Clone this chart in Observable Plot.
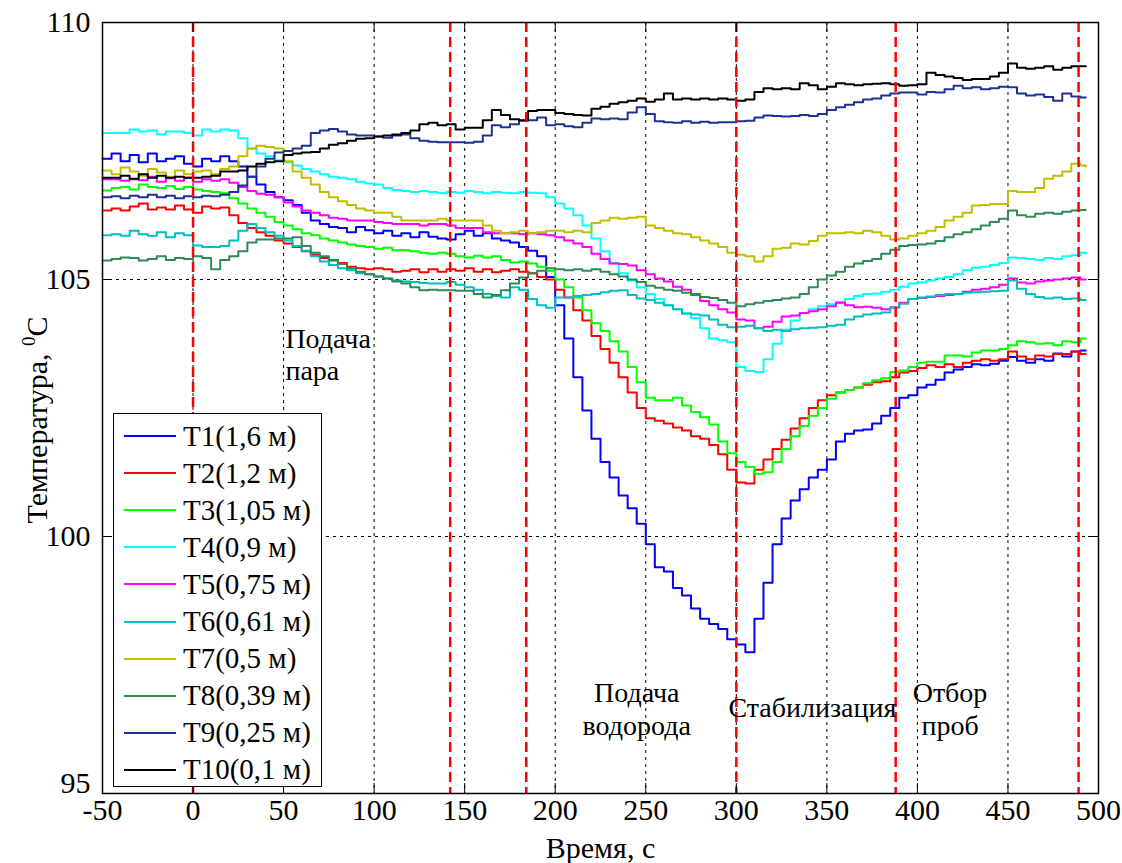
<!DOCTYPE html>
<html>
<head>
<meta charset="utf-8">
<script src="https://cdn.jsdelivr.net/npm/d3@7"></script>
<script src="https://cdn.jsdelivr.net/npm/@observablehq/plot@0.6"></script>
<style>
  html, body { margin: 0; padding: 0; background: #fff; }
  #wrap { position: relative; width: 1122px; height: 863px; font-family: "Liberation Serif", "Times New Roman", Tinos, "DejaVu Serif", serif; }
  #legend { position: absolute; left: 113px; top: 413px; width: 207px; height: 372px; border: 1px solid #000; background: #fff; }
  .item { position: absolute; left: 10px; height: 37px; display: flex; align-items: center; font-size: 29px; color: #000; white-space: nowrap; }
  .sw { width: 52px; height: 0; border-top: 2.5px solid; margin-right: 7px; }
</style>
</head>
<body>
<div id="wrap"></div>
<script>
// ---------------- data ----------------
const names = ["T1(1,6 м)", "T2(1,2 м)", "T3(1,05 м)", "T4(0,9 м)", "T5(0,75 м)",
               "T6(0,61 м)", "T7(0,5 м)", "T8(0,39 м)", "T9(0,25 м)", "T10(0,1 м)"];
const colors = ["#0000ff", "#ff0000", "#00ff00", "#00ffff", "#ff00ff",
                "#00bfbf", "#bfbf00", "#2e8b57", "#1e3296", "#000000"];

const times = [
  -50, -45, -40, -35, -30, -25, -20, -15, -10, -5,
  0, 5, 10, 15, 20, 25, 30, 35, 40, 45,
  50, 55, 60, 65, 70, 75, 80, 85, 90, 95,
  100, 105, 110, 115, 120, 125, 130, 135, 140, 145,
  150, 155, 160, 165, 170, 175, 180, 185, 190, 195,
  200, 205, 210, 215, 220, 225, 230, 235, 240, 245,
  250, 255, 260, 265, 270, 275, 280, 285, 290, 295,
  300, 305, 310, 315, 320, 325, 330, 335, 340, 345,
  350, 355, 360, 365, 370, 375, 380, 385, 390, 395,
  400, 405, 410, 415, 420, 425, 430, 435, 440, 445,
  450, 455, 460, 465, 470, 475, 480, 485, 490, 493
];

const T1 = [
  107.35, 107.45, 107.3, 107.42, 107.28, 107.45, 107.3, 107.35, 107.4, 107.25,
  107.2, 107.35, 107.3, 107.4, 107.3, 107.2, 107.0, 106.85, 106.7, 106.6,
  106.54, 106.45, 106.3, 106.15, 106.08, 106.02, 106.0, 105.92, 106.02, 105.96,
  105.9, 105.95, 105.85, 105.9, 105.82, 105.92, 105.83, 105.8, 105.78, 105.88,
  105.95, 105.85, 105.9, 105.8, 105.76, 105.72, 105.63, 105.56, 105.45, 105.05,
  104.5, 103.85, 103.1, 102.45, 101.9, 101.45, 101.15, 100.8, 100.55, 100.25,
  99.85, 99.4, 99.32, 99.0, 98.85, 98.6, 98.4, 98.3, 98.2, 98.0,
  97.9, 97.75, 98.4, 99.1, 99.85, 100.35, 100.7, 100.92, 101.15, 101.3,
  101.5, 101.85, 102.0, 102.06, 102.08, 102.2, 102.35, 102.5, 102.7, 102.75,
  102.9, 102.95, 103.05, 103.19, 103.25, 103.3, 103.35, 103.33, 103.36, 103.42,
  103.49, 103.42, 103.38, 103.45, 103.42, 103.56, 103.5, 103.6, 103.62, 103.62
];
const T2 = [
  106.34, 106.38, 106.34, 106.42, 106.48, 106.36, 106.4, 106.36, 106.44, 106.36,
  106.3, 106.42, 106.38, 106.4, 106.25, 106.1, 106.0, 105.92, 105.85, 105.76,
  105.7, 105.63, 105.55, 105.48, 105.42, 105.37, 105.32, 105.25, 105.22, 105.2,
  105.22, 105.2, 105.15, 105.17, 105.2, 105.14, 105.2, 105.15, 105.2, 105.17,
  105.22, 105.15, 105.2, 105.14, 105.17, 105.2, 105.15, 105.12, 105.05, 105.0,
  104.8, 104.65, 104.4, 104.2, 103.9, 103.65, 103.38, 103.1, 102.8, 102.5,
  102.3, 102.25, 102.2, 102.12, 102.06, 101.95, 101.9, 101.78, 101.6, 101.3,
  101.05, 101.03, 101.3, 101.5, 101.7, 101.88, 102.1, 102.3, 102.5, 102.65,
  102.75, 102.8, 102.85, 102.9, 102.95, 103.0, 103.02, 103.1, 103.19, 103.22,
  103.28, 103.33, 103.3, 103.35, 103.3, 103.38, 103.42, 103.45, 103.42, 103.45,
  103.6, 103.5, 103.45, 103.52, 103.5, 103.55, 103.55, 103.6, 103.55, 103.55
];
const T3 = [
  106.73, 106.78, 106.8, 106.75, 106.85, 106.8, 106.78, 106.82, 106.76, 106.8,
  106.75, 106.72, 106.7, 106.68, 106.58, 106.48, 106.38, 106.3, 106.22, 106.12,
  106.05, 105.98, 105.9, 105.86, 105.8, 105.76, 105.72, 105.68, 105.65, 105.63,
  105.6, 105.62, 105.57, 105.57, 105.55, 105.52, 105.5, 105.52, 105.5, 105.45,
  105.43, 105.46, 105.43, 105.45, 105.38, 105.33, 105.35, 105.31, 105.25, 105.17,
  105.0, 104.85, 104.65, 104.4, 104.15, 104.0, 103.8, 103.6, 103.3, 103.0,
  102.7, 102.65, 102.65, 102.7, 102.55, 102.42, 102.32, 102.18, 101.85, 101.62,
  101.45, 101.35, 101.22, 101.25, 101.45, 101.7, 101.95, 102.15, 102.35, 102.5,
  102.68, 102.8, 102.85, 102.9, 102.98, 103.04, 103.08, 103.2, 103.23, 103.3,
  103.38, 103.4, 103.4, 103.52, 103.52, 103.5, 103.58, 103.62, 103.62, 103.65,
  103.72, 103.8, 103.78, 103.75, 103.76, 103.72, 103.8, 103.78, 103.85, 103.85
];
const T4 = [
  107.85, 107.85, 107.85, 107.92, 107.88, 107.9, 107.82, 107.88, 107.88, 107.85,
  107.8, 107.92, 107.88, 107.92, 107.9, 107.75, 107.55, 107.45, 107.4, 107.32,
  107.28, 107.22, 107.15, 107.1, 107.05, 107.0, 106.98, 106.95, 106.9, 106.87,
  106.85, 106.78, 106.74, 106.72, 106.7, 106.72, 106.7, 106.68, 106.7, 106.69,
  106.72, 106.7, 106.68, 106.7, 106.69, 106.68, 106.7, 106.69, 106.68, 106.6,
  106.48, 106.38, 106.25, 106.05, 105.8, 105.55, 105.32, 105.12, 104.98, 104.85,
  104.72, 104.62, 104.5, 104.42, 104.34, 104.25, 104.05, 103.85, 103.82, 103.78,
  103.3, 103.22, 103.2, 103.45, 103.75, 104.02, 104.2, 104.35, 104.42, 104.48,
  104.52, 104.56, 104.62, 104.68, 104.72, 104.73, 104.76, 104.8, 104.86, 104.92,
  104.94, 104.98, 105.02, 105.05, 105.1, 105.18, 105.23, 105.25, 105.28, 105.32,
  105.43, 105.42, 105.4, 105.38, 105.42, 105.4, 105.45, 105.47, 105.52, 105.5
];
const T5 = [
  106.95, 106.95, 106.92, 106.95, 106.93, 107.0, 106.9, 106.97, 106.92, 106.98,
  106.9, 106.95, 106.92, 106.95, 106.88, 106.8, 106.72, 106.67, 106.65, 106.6,
  106.5, 106.42, 106.34, 106.3, 106.25, 106.2, 106.18, 106.15, 106.15, 106.15,
  106.12, 106.1, 106.08, 106.08, 106.08, 106.05, 106.08, 106.08, 106.05, 106.0,
  106.0, 106.0, 105.92, 105.9, 105.9, 105.9, 105.88, 105.9, 105.88, 105.86,
  105.82, 105.76, 105.7, 105.63, 105.5, 105.4, 105.31, 105.3, 105.27, 105.18,
  105.1, 105.02, 104.96, 104.86, 104.8, 104.72, 104.58, 104.5, 104.42, 104.36,
  104.22, 104.2, 104.05, 104.08, 104.18, 104.28, 104.3, 104.35, 104.38, 104.42,
  104.48, 104.55, 104.5, 104.46, 104.47, 104.45, 104.42, 104.46, 104.55, 104.62,
  104.64, 104.66, 104.68, 104.7, 104.72, 104.76, 104.8, 104.82, 104.85, 104.9,
  105.02, 104.94, 104.92, 104.96, 104.98, 105.0, 105.02, 105.04, 105.0, 105.0
];
const T6 = [
  105.86, 105.88, 105.85, 105.95, 105.88, 105.85, 105.92, 105.82, 105.9, 105.86,
  105.66, 105.63, 105.63, 105.65, 105.76, 105.95, 106.08, 106.0, 105.92, 105.85,
  105.76, 105.65, 105.56, 105.45, 105.35, 105.28, 105.22, 105.18, 105.12, 105.1,
  105.06, 105.02, 104.98, 104.96, 104.95, 104.93, 104.92, 104.92, 104.95, 104.9,
  104.85, 104.8, 104.72, 104.68, 104.65, 104.85, 104.8, 104.62, 104.5, 104.45,
  104.65, 104.65, 104.68, 104.7, 104.72, 104.75, 104.78, 104.79, 104.7, 104.63,
  104.6, 104.55, 104.5, 104.42, 104.34, 104.32, 104.3, 104.22, 104.12, 104.07,
  104.08, 104.1, 104.05, 104.0, 104.02, 104.0, 104.03, 104.05, 104.06, 104.07,
  104.1, 104.12, 104.22, 104.28, 104.32, 104.34, 104.36, 104.45, 104.53, 104.62,
  104.65, 104.67, 104.7, 104.72, 104.72, 104.74, 104.75, 104.76, 104.77, 104.78,
  104.98, 104.82, 104.72, 104.66, 104.63, 104.65, 104.62, 104.63, 104.6, 104.6
];
const T7 = [
  107.12, 107.05, 107.18, 107.1, 107.02, 107.15, 107.08, 107.0, 107.12, 107.05,
  107.1, 107.12, 107.05, 107.15, 107.2, 107.4, 107.55, 107.6, 107.58, 107.55,
  107.3, 107.1, 106.98, 106.85, 106.7, 106.6, 106.52, 106.45, 106.38, 106.34,
  106.3, 106.3, 106.22, 106.15, 106.15, 106.15, 106.15, 106.18, 106.15, 106.15,
  106.15, 106.15, 106.05, 105.95, 105.9, 105.92, 105.95, 105.9, 105.92, 105.95,
  105.95, 105.92, 105.95, 105.92, 106.1, 106.15, 106.2, 106.18, 106.2, 106.22,
  106.05, 106.0, 105.95, 105.9, 105.88, 105.82, 105.76, 105.7, 105.63, 105.52,
  105.48, 105.45, 105.35, 105.45, 105.6, 105.62, 105.7, 105.68, 105.75, 105.85,
  105.9, 105.9, 105.92, 105.9, 105.95, 105.92, 105.85, 105.78, 105.8, 105.85,
  105.9, 105.95, 106.02, 106.15, 106.22, 106.3, 106.44, 106.45, 106.47, 106.47,
  106.72, 106.7, 106.7, 106.78, 106.96, 107.02, 107.1, 107.25, 107.22, 107.2
];
const T8 = [
  105.37, 105.4, 105.43, 105.42, 105.37, 105.4, 105.45, 105.38, 105.42, 105.4,
  105.45, 105.42, 105.2, 105.38, 105.45, 105.55, 105.72, 105.78, 105.78, 105.8,
  105.8, 105.82, 105.65, 105.52, 105.45, 105.38, 105.3, 105.22, 105.15, 105.1,
  105.06, 105.02, 104.96, 104.92, 104.85, 104.79, 104.8, 104.79, 104.79, 104.78,
  104.78, 104.72, 104.65, 104.7, 104.79, 104.92, 105.04, 105.12, 105.17, 105.22,
  105.2, 105.18, 105.2, 105.17, 105.2, 105.15, 105.1, 105.06, 105.0, 104.95,
  104.88, 104.84, 104.8, 104.78, 104.74, 104.7, 104.66, 104.64, 104.6, 104.55,
  104.48, 104.52, 104.55, 104.58, 104.6, 104.63, 104.65, 104.72, 104.85, 105.0,
  105.08, 105.15, 105.25, 105.31, 105.36, 105.4, 105.5, 105.58, 105.65, 105.67,
  105.68, 105.7, 105.75, 105.82, 105.88, 105.92, 105.98, 106.05, 106.12, 106.18,
  106.34, 106.25, 106.22, 106.28, 106.3, 106.28, 106.32, 106.34, 106.35, 106.35
];
const T9 = [
  106.6, 106.62, 106.58, 106.63, 106.6, 106.65, 106.6, 106.63, 106.58, 106.62,
  106.6, 106.63, 106.62, 106.65, 106.7, 106.83, 107.0, 107.2, 107.35, 107.47,
  107.5, 107.55, 107.6, 107.85, 107.9, 107.93, 107.88, 107.82, 107.8, 107.8,
  107.78, 107.76, 107.8, 107.82, 107.75, 107.7, 107.68, 107.67, 107.67, 107.67,
  107.66, 107.68, 107.8, 108.0, 107.96, 108.02, 108.09, 108.1, 108.15, 108.0,
  108.02, 107.98, 107.96, 108.05, 108.13, 108.12, 108.13, 108.12, 108.25, 108.35,
  108.22, 108.08, 108.06, 108.05, 108.08, 108.05, 108.07, 108.05, 108.06, 108.06,
  108.08, 108.09, 108.15, 108.19, 108.18, 108.17, 108.18, 108.2, 108.18, 108.22,
  108.3, 108.35, 108.4, 108.45, 108.5, 108.52, 108.58, 108.62, 108.64, 108.64,
  108.6, 108.65, 108.64, 108.7, 108.77, 108.72, 108.74, 108.7, 108.72, 108.75,
  108.74, 108.62, 108.58, 108.6, 108.55, 108.48, 108.62, 108.56, 108.54, 108.54
];
const T10 = [
  106.98, 106.98, 107.02, 106.96, 107.05, 106.98, 107.02, 106.98, 107.0, 106.98,
  106.98, 107.0, 107.02, 107.1, 107.1, 107.12, 107.2, 107.25, 107.28, 107.3,
  107.42, 107.45, 107.47, 107.48, 107.55, 107.62, 107.65, 107.7, 107.74, 107.75,
  107.78, 107.8, 107.82, 107.85, 107.9, 108.02, 108.05, 108.0, 108.02, 107.92,
  107.95, 107.95, 108.1, 108.3, 108.2, 108.12, 108.1, 108.28, 108.3, 108.3,
  108.24, 108.22, 108.2, 108.19, 108.32, 108.36, 108.42, 108.45, 108.48, 108.52,
  108.46, 108.5, 108.62, 108.5, 108.52, 108.5, 108.52, 108.5, 108.52, 108.5,
  108.48, 108.5, 108.65, 108.72, 108.7, 108.72, 108.7, 108.82, 108.78, 108.7,
  108.75, 108.82, 108.8, 108.78, 108.8, 108.81, 108.82, 108.8, 108.77, 108.78,
  108.8, 109.02, 108.98, 108.95, 108.92, 108.88, 108.9, 108.9, 108.95, 109.02,
  109.2, 109.12, 109.1, 109.12, 109.15, 109.08, 109.12, 109.15, 109.15, 109.15
];
const series = [T1, T2, T3, T4, T5, T6, T7, T8, T9, T10];

const phaseBounds = [0, 142, 184, 300, 388, 489];   // красные штриховые линии, с
const phaseLabels = ["Подача\nпара", "Подача\nводорода", "Стабилизация", "Отбор\nпроб"];
const xTicks = [-50, 0, 50, 100, 150, 200, 250, 300, 350, 400, 450, 500];
const yTicks = [95, 100, 105, 110];
const xGrid = [0, 50, 100, 150, 200, 250, 300, 350, 400, 450];
const yGrid = [100, 105];
const xLabel = "Время, с";
const yLabelMain = "Температура, ";
const yLabelSup = "0";
const yLabelUnit = "C";

// ---------------- chart ----------------
const FONT = "'Liberation Serif', 'Times New Roman', Tinos, 'DejaVu Serif', serif";
const W = 1122, H = 863, mL = 102, mR = 24, mT = 22, mB = 70;
const plotW = W - mL - mR, plotH = H - mT - mB;

const rows = [];
series.forEach((s, i) => times.forEach((t, j) => rows.push({t, v: s[j], name: names[i]})));

const labelRows = [
  {label: phaseLabels[0], t: 51, v: 103.55, anchor: "start", lh: 1.11},
  {label: phaseLabels[1], t: 245, v: 96.66, anchor: "middle", lh: 1.18},
  {label: phaseLabels[2], t: 342, v: 96.69, anchor: "middle", lh: 1.18},
  {label: phaseLabels[3], t: 418, v: 96.66, anchor: "middle", lh: 1.18}
];

const chart = Plot.plot({
  width: W, height: H,
  marginLeft: mL, marginRight: mR, marginTop: mT, marginBottom: mB,
  style: {fontFamily: FONT, fontSize: "30px", background: "white", color: "black", overflow: "visible"},
  x: {domain: [-50, 500]},
  y: {domain: [95, 110]},
  color: {domain: names, range: colors},
  marks: [
    Plot.ruleX(xGrid, {x: d => d, stroke: "#000", strokeWidth: 1, strokeDasharray: "3,4"}),
    Plot.ruleY(yGrid, {y: d => d, stroke: "#000", strokeWidth: 1, strokeDasharray: "3,4"}),
    Plot.lineY(rows, {x: "t", y: "v", z: "name", stroke: "name", curve: "step-after", strokeWidth: 2}),
    Plot.ruleX(phaseBounds, {x: d => d, stroke: "#ff0000", strokeWidth: 2.5, strokeDasharray: "10,5"}),
    ...labelRows.map(r => Plot.text([r], {x: "t", y: "v", text: "label", textAnchor: r.anchor, lineHeight: r.lh, fontSize: 28, fill: "#000", fontFamily: FONT})),
    Plot.frame({stroke: "#000", strokeWidth: 1.5}),
    Plot.tickX(xTicks, {x: d => d, insetTop: plotH - 10, stroke: "#000"}),
    Plot.tickX(xTicks, {x: d => d, insetBottom: plotH - 10, stroke: "#000"}),
    Plot.tickY(yTicks, {y: d => d, insetRight: plotW - 10, stroke: "#000"}),
    Plot.tickY(yTicks, {y: d => d, insetLeft: plotW - 10, stroke: "#000"}),
    Plot.axisX(xTicks, {tickSize: 0, tickPadding: 5, label: null, tickFormat: d => String(d), fontSize: 30, fontFamily: FONT}),
    Plot.axisY(yTicks.slice(1), {tickSize: 0, tickPadding: 12, label: null, tickFormat: d => String(d), fontSize: 30, fontFamily: FONT}),
    Plot.axisY(yTicks.slice(0, 1), {tickSize: 0, tickPadding: 12, label: null, tickFormat: d => String(d), fontSize: 30, fontFamily: FONT, dy: -10}),
    Plot.text([xLabel], {frameAnchor: "bottom", textAnchor: "middle", lineAnchor: "middle", dy: 55, fontSize: 30, fill: "#000", fontFamily: FONT}),
    Plot.text([yLabelMain + yLabelSup + yLabelUnit], {frameAnchor: "left", textAnchor: "middle", lineAnchor: "middle", rotate: -90, dx: -65, dy: 12, fontSize: 30, fill: "#000", fontFamily: FONT})
  ]
});

const wrap = document.getElementById("wrap");
wrap.appendChild(chart);

// superscript 0 in the y label
const full = yLabelMain + yLabelSup + yLabelUnit;
chart.querySelectorAll("text").forEach(el => {
  if (el.textContent === full) {
    el.textContent = "";
    const ns = "http://www.w3.org/2000/svg";
    const a = document.createElementNS(ns, "tspan"); a.textContent = yLabelMain;
    const b = document.createElementNS(ns, "tspan"); b.textContent = yLabelSup; b.setAttribute("font-size", "19"); b.setAttribute("dy", "-12");
    const c = document.createElementNS(ns, "tspan"); c.textContent = yLabelUnit; c.setAttribute("dy", "12");
    el.appendChild(a); el.appendChild(b); el.appendChild(c);
  }
});

// legend (opaque box inside the plot area)
const legend = document.createElement("div");
legend.id = "legend";
names.forEach((n, i) => {
  const it = document.createElement("div");
  it.className = "item";
  it.style.top = (22 + 37.1 * i - 18.5) + "px";
  const sw = document.createElement("span");
  sw.className = "sw";
  sw.style.borderTopColor = colors[i];
  const tx = document.createElement("span");
  tx.textContent = n;
  it.appendChild(sw); it.appendChild(tx);
  legend.appendChild(it);
});
wrap.appendChild(legend);
</script>
</body>
</html>
